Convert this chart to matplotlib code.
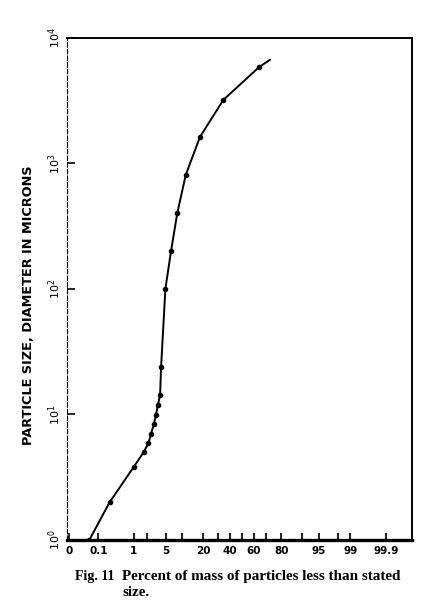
import math
import numpy as np
import matplotlib
matplotlib.use("Agg")
import matplotlib.pyplot as plt

# percent of mass smaller than stated size
pct = [0.051, 0.22, 0.98, 1.71, 2.2, 2.52, 2.89, 3.22, 3.51, 3.9, 4.08,
       4.96, 6.34, 8.2, 11.3, 18.3, 34.4, 64.3]
size = [1.0, 2.0, 3.8, 5.0, 5.9, 7.0, 8.4, 9.9, 11.9, 14.3, 23.9,
        100, 201, 404, 809, 1626, 3206, 5843]
# curve carries on a little past the last plotted point
curve_end_pct = 72.6
curve_end_size = 6680

xticks = [0.1, 1, 2, 5, 10, 20, 30, 40, 50, 60, 70, 80, 90, 95, 98, 99, 99.9]
xlabel_vals = [0.01, 0.1, 1, 5, 20, 40, 60, 80, 95, 99, 99.9]
xlabel_txt = ["0", "0.1", "1", "5", "20", "40", "60", "80", "95", "99", "99.9"]
yticks = [1, 10, 100, 1000, 10000]
ylabel_txt = ["$10^0$", "$10^1$", "$10^2$", "$10^3$", "$10^4$"]


def _cdf(z):
    return 0.5 * (1 + math.erf(z / math.sqrt(2)))


def _ppf(p):
    lo, hi = -9.0, 9.0
    for _ in range(60):
        mid = 0.5 * (lo + hi)
        if _cdf(mid) < p:
            lo = mid
        else:
            hi = mid
    return 0.5 * (lo + hi)


def forward(x):
    x = np.clip(np.asarray(x, dtype=float), 1e-9, 100 - 1e-9)
    return np.vectorize(lambda v: _ppf(v / 100.0))(x)


def inverse(z):
    z = np.asarray(z, dtype=float)
    return np.vectorize(lambda v: 100.0 * _cdf(v))(z)


fig = plt.figure(figsize=(4.22, 6.0), dpi=100)
ax = fig.add_axes([0.159, 0.1, 0.817, 0.837])
ax.set_xscale("function", functions=(forward, inverse))
ax.set_yscale("log")

ax.plot(pct + [curve_end_pct], size + [curve_end_size], color="black", lw=1.4)
ax.plot(pct, size, "o", color="black", ms=3.0)

ax.set_xlim(0.0084, 99.987)
ax.set_ylim(1, 10000)

ax.set_xticks(xticks, minor=True)
ax.set_xticks(xlabel_vals)
ax.set_xticklabels(xlabel_txt, fontsize=7.5, fontweight="bold")
ax.tick_params(axis="x", which="both", direction="in", length=5, width=1.2, pad=4)
ax.set_yticks(yticks)
ax.set_yticklabels(ylabel_txt, fontsize=8, fontweight="bold", rotation=90, va="center")
ax.yaxis.set_minor_locator(matplotlib.ticker.NullLocator())
ax.tick_params(axis="y", direction="in", length=6, width=1.2, pad=3)

ax.spines["bottom"].set_linewidth(2.4)
ax.spines["top"].set_linewidth(1.4)
ax.spines["right"].set_linewidth(1.4)
ax.spines["left"].set_linewidth(0.8)
ax.spines["left"].set_linestyle((0, (4, 2)))

ax.set_ylabel("PARTICLE SIZE, DIAMETER IN MICRONS", fontsize=9.3,
              fontweight="bold")
ax.yaxis.set_label_coords(-0.093, 0.468)

cap = dict(fontweight="bold", family="Liberation Serif", va="baseline")
fig.text(0.178, 0.034, "Fig. 11", fontsize=10, **cap)
fig.text(0.29, 0.034, "Percent of mass of particles less than stated",
         fontsize=10.9, **cap)
fig.text(0.29, 0.007, "size.", fontsize=10.9, **cap)

fig.savefig("out.png", dpi=100)
